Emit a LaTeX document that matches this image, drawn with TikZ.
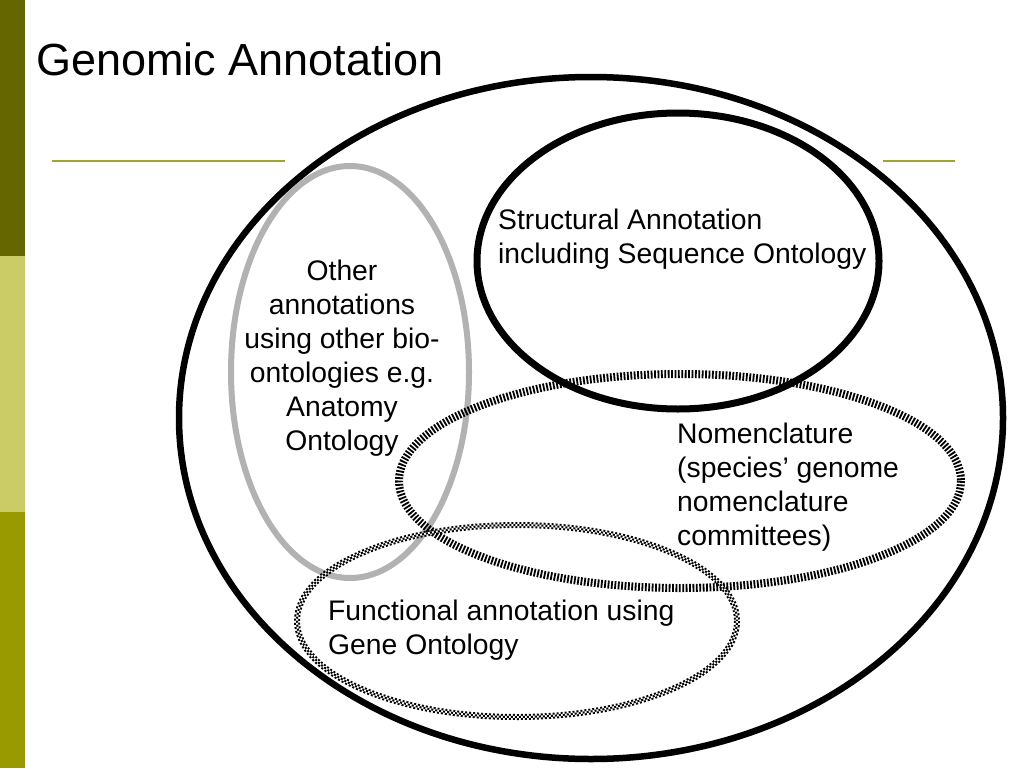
\documentclass[tikz,border=0pt]{standalone}
\usepackage{fontspec}
\setmainfont{Liberation Sans}
\definecolor{oliveA}{HTML}{666600}
\definecolor{oliveB}{HTML}{CCCC66}
\definecolor{oliveC}{HTML}{999900}
\definecolor{oliveLine}{HTML}{A3A332}
\definecolor{grayring}{HTML}{B2B2B2}
\tikzset{
  lbl/.style={inner sep=0pt, font=\fontsize{28.3}{34}\selectfont},
  ring/.style={draw=black},
}
\begin{document}
\begin{tikzpicture}[x=1pt,y=-1pt]
\useasboundingbox (0,0) rectangle (1024,768);
\fill[white] (0,0) rectangle (1024,768);
% side bar
\fill[oliveA] (0,0) rectangle (25,256);
\fill[oliveB] (0,256) rectangle (25,512);
\fill[oliveC] (0,512) rectangle (25,768);
% title
\node[inner sep=0pt, anchor=base west, font=\fontsize{45}{52}\selectfont] (title) at (36,75) {Genomic Annotation};
% rule under title
\coordinate (ruleL1) at (52,161);
\coordinate (ruleL2) at (285,161);
\coordinate (ruleR1) at (883,161);
\coordinate (ruleR2) at (955,161);
\draw[oliveLine, line width=2pt] (ruleL1) -- (ruleL2);
\draw[oliveLine, line width=2pt] (ruleR1) -- (ruleR2);
% outer ellipse
\draw[ring, line width=6.5pt] (591,418) ellipse [x radius=412, y radius=341];
% gray ellipse
\draw[grayring, line width=6pt] (350,372) ellipse [x radius=119, y radius=206];
% nomenclature striped ellipse
\draw[black, line width=8pt, dash pattern=on 1.8pt off 1.6pt] (680,481) ellipse [x radius=281, y radius=107];
% functional checkered ellipse
\draw[black, line width=6pt, dash pattern=on 2pt off 2pt] (517,621) ellipse [x radius=220, y radius=96];
\draw[white, line width=2pt] (517,621) ellipse [x radius=220, y radius=96];
\draw[black, line width=2pt, dash pattern=on 2pt off 2pt, dash phase=2pt] (517,621) ellipse [x radius=220, y radius=96];
% structural ellipse
\draw[ring, line width=7pt] (678,261) ellipse [x radius=201, y radius=148];
% labels
\node[lbl, anchor=north west, align=left] (struct) at (498,209) {Structural Annotation\\including Sequence Ontology};
\node[lbl, anchor=north, align=center] (other) at (342,260) {Other\\annotations\\using other bio-\\ontologies e.g.\\Anatomy\\Ontology};
\node[lbl, anchor=north west, align=left] (nomen) at (677,423) {Nomenclature\\(species’ genome\\nomenclature\\committees)};
\node[lbl, anchor=north west, align=left] (func) at (328,600) {Functional annotation using\\Gene Ontology};
\end{tikzpicture}
\end{document}
